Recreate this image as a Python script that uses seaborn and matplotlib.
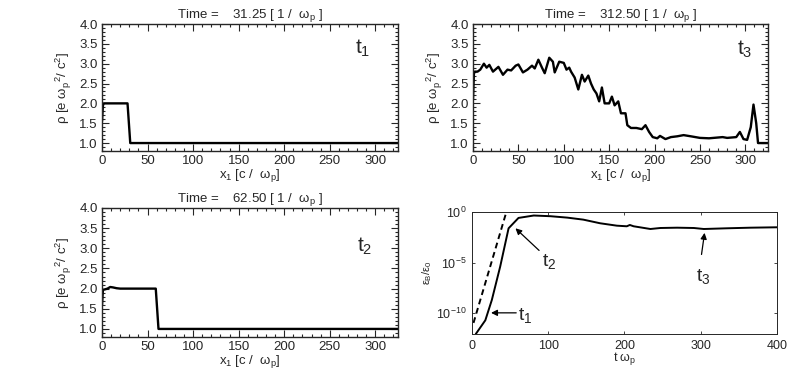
import numpy as np
import matplotlib
matplotlib.use("Agg")
import matplotlib.pyplot as plt
from matplotlib.ticker import MultipleLocator, FixedLocator, NullLocator
import seaborn as sns

# density profiles, rho vs x1
x_t1 = [0, 1, 2, 28, 31, 325]
rho_t1 = [1.55, 1.95, 2.0, 2.0, 1.0, 1.0]

x_t2 = [0, 1, 3, 6, 9, 12, 16, 20, 30, 40, 50, 59, 62, 325]
rho_t2 = [1.6, 1.97, 1.98, 2.0, 2.04, 2.03, 2.01, 2.0, 2.0, 2.0, 2.0, 2.0, 1.0, 1.0]

x_t3 = [0, 1, 2, 5, 8, 12, 15, 18, 22, 28, 33, 38, 42, 47, 50, 55, 60, 65, 68,
        72, 76, 79, 84, 88, 90, 95, 100, 103, 106, 108, 112, 116, 120, 123,
        127, 130, 133, 136, 139, 142, 145, 150, 153, 156, 160, 163, 168, 170,
        174, 180, 186, 190, 194, 198, 203, 206, 212, 218, 225, 232, 240, 250,
        260, 270, 275, 280, 290, 294, 298, 302, 306, 309, 312, 314, 325]
rho_t3 = [2.1, 2.75, 2.8, 2.8, 2.85, 3.0, 2.9, 2.97, 2.8, 2.92, 2.72, 2.85,
          2.83, 2.95, 2.98, 2.78, 2.85, 2.95, 2.88, 3.1, 2.9, 2.76, 3.15, 3.05,
          2.78, 3.05, 3.02, 2.85, 2.9, 2.8, 2.65, 2.35, 2.72, 2.55, 2.7, 2.5,
          2.35, 2.25, 2.05, 2.4, 2.0, 2.0, 2.17, 1.95, 2.05, 1.75, 1.75, 1.45,
          1.38, 1.38, 1.35, 1.45, 1.28, 1.15, 1.12, 1.18, 1.1, 1.15, 1.17, 1.2,
          1.17, 1.13, 1.12, 1.14, 1.15, 1.13, 1.15, 1.28, 1.1, 1.08, 1.4, 1.97,
          1.5, 1.0, 1.0]

# magnetic energy vs time (log10 of eps_B / eps_0)
t_energy = [5, 17.5, 26, 37, 48, 61, 81, 103, 125, 146, 168, 190, 203, 207,
            212, 234, 247, 269, 291, 304, 334, 365, 400]
log_energy = [-12.1, -10.74, -8.73, -5.4, -1.6, -0.57, -0.33, -0.4, -0.54,
              -0.74, -1.1, -1.34, -1.4, -1.27, -1.4, -1.67, -1.57, -1.54,
              -1.57, -1.67, -1.6, -1.54, -1.5]
t_growth = [2, 45]
log_growth = [-11.0, 0.0]

times = ["31.25", "312.50", "62.50"]

sns.set_style("ticks")
plt.rcParams['font.family'] = ['Liberation Sans', 'DejaVu Sans']
plt.rcParams['mathtext.fontset'] = 'custom'
plt.rcParams['mathtext.rm'] = 'Liberation Sans'
plt.rcParams['mathtext.it'] = 'Liberation Sans'

fig = plt.figure(figsize=(7.89, 3.81), dpi=100)
ax1 = fig.add_axes([0.1293, 0.6037, 0.3752, 0.3333])
ax3 = fig.add_axes([0.5995, 0.6037, 0.3739, 0.3333])
ax2 = fig.add_axes([0.1293, 0.1155, 0.3752, 0.3386])
ax4 = fig.add_axes([0.5982, 0.1234, 0.3866, 0.3202])

# panel, x, rho, time, label, label position (axes fraction)
profiles = [(ax1, x_t1, rho_t1, times[0], 't$_1$', (0.855, 0.81)),
            (ax3, x_t3, rho_t3, times[1], 't$_3$', (0.895, 0.80)),
            (ax2, x_t2, rho_t2, times[2], 't$_2$', (0.86, 0.70))]

for ax, xs, ys, tm, lab, pos in profiles:
    sns.lineplot(x=xs, y=ys, ax=ax, color='black', lw=1.7, estimator=None, sort=False)
    ax.set_xlim(0, 325)
    ax.set_ylim(0.8, 4.0)
    ax.xaxis.set_major_locator(MultipleLocator(50))
    ax.xaxis.set_minor_locator(MultipleLocator(10))
    ax.yaxis.set_major_locator(FixedLocator(np.arange(1.0, 4.01, 0.5)))
    ax.yaxis.set_minor_locator(MultipleLocator(0.1))
    ax.tick_params(which='both', direction='in', top=True, right=True,
                   labelsize=9.5, width=0.8, pad=3)
    ax.tick_params(which='major', length=5)
    ax.tick_params(which='minor', length=2.5)
    ax.yaxis.set_major_formatter(matplotlib.ticker.FormatStrFormatter('%.1f'))
    for s in ax.spines.values():
        s.set_linewidth(1.0)
    ax.set_title('Time =    %s [ 1 /  $\\omega_{\\rm p}$ ]' % tm, fontsize=9.5, pad=3)
    ax.set_xlabel('x$_1$ [c /  $\\omega_{\\rm p}$]', fontsize=9.5, labelpad=0)
    ax.set_ylabel('$\\rho$ [e $\\omega_{\\rm p}^{\\ \\ 2}$/ c$^2$]', fontsize=9.5, labelpad=4)
    ax.text(pos[0], pos[1], lab, transform=ax.transAxes, fontsize=15, ha='left', va='center')

# energy panel
sns.lineplot(x=t_energy, y=np.power(10.0, log_energy), ax=ax4, color='black', lw=1.4,
             estimator=None, sort=False)
sns.lineplot(x=t_growth, y=np.power(10.0, log_growth), ax=ax4, color='black', lw=1.4,
             linestyle=(0, (3, 2)), estimator=None, sort=False)
ax4.set_yscale('log')
ax4.set_xlim(0, 400)
ax4.set_ylim(10 ** -12.1, 10 ** 0.02)
ax4.xaxis.set_major_locator(MultipleLocator(100))
ax4.yaxis.set_major_locator(FixedLocator([1e-10, 1e-5, 1e0]))
ax4.yaxis.set_minor_locator(NullLocator())
ax4.tick_params(which='both', direction='in', top=True, right=True, length=2.5,
                width=0.6, labelsize=9, pad=4)
for s in ax4.spines.values():
    s.set_linewidth(0.7)
ax4.set_xlabel('t $\\omega_{\\rm p}$', fontsize=9, labelpad=-1)
ax4.set_ylabel('$\\epsilon_{\\rm B}/\\epsilon_0$', fontsize=8, labelpad=1)

arrow = dict(arrowstyle='-|>', color='black', lw=0.9, mutation_scale=9, shrinkA=0, shrinkB=0)
ax4.annotate('', xy=(25, 1e-10), xytext=(58, 1e-10), arrowprops=arrow)
ax4.text(61, 10 ** -10.3, 't$_1$', fontsize=14, ha='left', va='center')
ax4.annotate('', xy=(57, 10 ** -1.6), xytext=(88, 10 ** -3.8), arrowprops=arrow)
ax4.text(92, 10 ** -4.9, 't$_2$', fontsize=14, ha='left', va='center')
ax4.annotate('', xy=(305, 10 ** -2.05), xytext=(301, 10 ** -4.2), arrowprops=arrow)
ax4.text(294, 10 ** -6.4, 't$_3$', fontsize=14, ha='left', va='center')

fig.savefig('out.png', dpi=100)
